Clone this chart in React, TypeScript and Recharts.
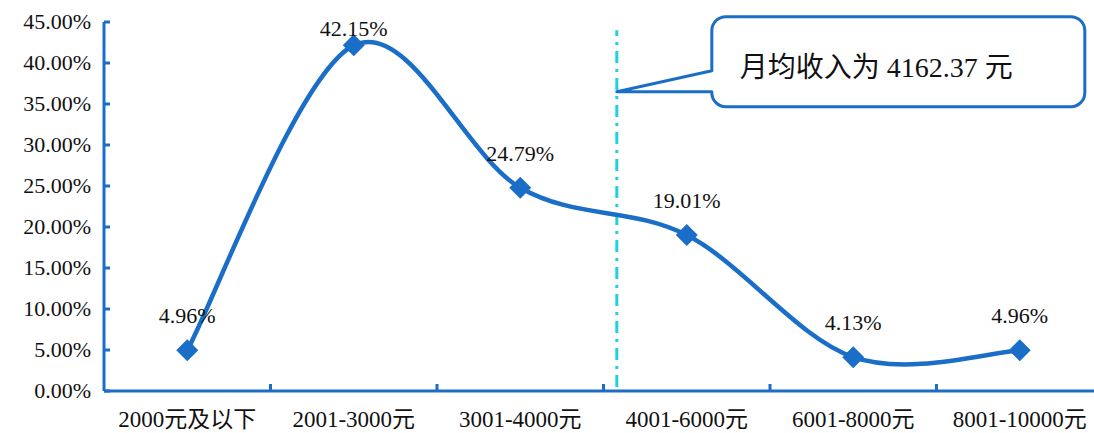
import { LabelList, Line, LineChart, ReferenceDot, ReferenceLine, XAxis, YAxis } from "recharts";

const categories = ["2000元及以下", "2001-3000元", "3001-4000元", "4001-6000元", "6001-8000元", "8001-10000元"];
const shares = [4.96, 42.15, 24.79, 19.01, 4.13, 4.96];
const yTicks = [0, 5, 10, 15, 20, 25, 30, 35, 40, 45];
const xTicks = [0.5, 1, 1.5, 2, 2.5, 3, 3.5, 4, 4.5, 5, 5.5];

// 月均收入 4162.37 falls inside the 4001-6000 bucket
const avgIncomeX = 3.08;
const calloutY = 36.5;
const calloutText = "月均收入为 4162.37 元";

const BLUE = "#1a6ec7";
const CYAN = "#1fd2df";
const FONT = '"Liberation Serif", "Times New Roman", "Noto Sans CJK SC", serif';

const data = shares.map((v, i) => ({ x: i + 0.5, name: categories[i], v }));

// Excel-style smoothed line (Catmull-Rom as cubic beziers)
function smoothCurve(context: any) {
  let pts: [number, number][] = [];
  return {
    areaStart() {},
    areaEnd() {},
    lineStart() {
      pts = [];
    },
    point(x: number, y: number) {
      pts.push([+x, +y]);
    },
    lineEnd() {
      if (!pts.length) return;
      context.moveTo(pts[0][0], pts[0][1]);
      for (let i = 0; i < pts.length - 1; i++) {
        const p0 = pts[i - 1] || pts[i];
        const p1 = pts[i];
        const p2 = pts[i + 1];
        const p3 = pts[i + 2] || p2;
        context.bezierCurveTo(
          p1[0] + (p2[0] - p0[0]) / 6,
          p1[1] + (p2[1] - p0[1]) / 6,
          p2[0] - (p3[0] - p1[0]) / 6,
          p2[1] - (p3[1] - p1[1]) / 6,
          p2[0],
          p2[1]
        );
      }
    },
  };
}

function Diamond({ cx, cy }: any) {
  if (cx == null || cy == null) return null;
  const r = 11;
  return <polygon points={`${cx},${cy - r} ${cx + r},${cy} ${cx},${cy + r} ${cx - r},${cy}`} fill={BLUE} />;
}

function YTick({ x, y, payload }: any) {
  return (
    <g>
      <line x1={x} x2={x + 6} y1={y} y2={y} stroke={BLUE} strokeWidth={3} />
      <text x={x - 13} y={y + 7} textAnchor="end" fontSize={22} fontFamily={FONT} fill="#111">
        {`${Number(payload.value).toFixed(2)}%`}
      </text>
    </g>
  );
}

function XTick({ x, y, payload }: any) {
  const v = Number(payload.value);
  if (Number.isInteger(v)) {
    return <line x1={x} x2={x} y1={y} y2={y - 7} stroke={BLUE} strokeWidth={3} />;
  }
  return (
    <text x={x} y={y + 36} textAnchor="middle" fontSize={23} fontFamily={FONT} fill="#111">
      {categories[Math.floor(v)]}
    </text>
  );
}

function ValueLabel({ x, y, value }: any) {
  const ty = Math.max(y - 27, 36);
  return (
    <text x={x} y={ty} textAnchor="middle" fontSize={22} fontFamily={FONT} fill="#111">
      {`${Number(value).toFixed(2)}%`}
    </text>
  );
}

function Callout({ cx, cy }: any) {
  if (cx == null || cy == null) return null;
  const L = cx + 95;
  const R = cx + 468;
  const T = cy - 75;
  const B = cy + 15;
  const r = 14;
  const d = [
    `M${L},${cy - 21}`,
    `V${T + r}`,
    `A${r},${r} 0 0 1 ${L + r},${T}`,
    `H${R - r}`,
    `A${r},${r} 0 0 1 ${R},${T + r}`,
    `V${B - r}`,
    `A${r},${r} 0 0 1 ${R - r},${B}`,
    `H${L + r}`,
    `A${r},${r} 0 0 1 ${L},${B - r}`,
    `V${cy}`,
    `L${cx},${cy}`,
    "Z",
  ].join(" ");
  return (
    <g>
      <path d={d} fill="#fff" stroke={BLUE} strokeWidth={3} strokeLinejoin="round" />
      <text x={L + 28} y={cy - 15} fontSize={28} fontFamily={FONT} fill="#111">
        {calloutText}
      </text>
    </g>
  );
}

export default function App() {
  return (
    <div style={{ position: "fixed", left: 0, top: 0, width: 1094, height: 433, overflow: "hidden", background: "#fff" }}>
      <LineChart width={1110} height={433} data={data} margin={{ top: 22, right: 7, bottom: 0, left: 0 }}>
        <XAxis
          type="number"
          dataKey="x"
          domain={[0, 6]}
          ticks={xTicks}
          interval={0}
          tick={<XTick />}
          tickLine={false}
          tickSize={0}
          tickMargin={0}
          height={42}
          axisLine={{ stroke: BLUE, strokeWidth: 3 }}
        />
        <YAxis
          type="number"
          domain={[0, 45]}
          ticks={yTicks}
          interval={0}
          width={104}
          tick={<YTick />}
          tickLine={false}
          tickSize={0}
          tickMargin={0}
          axisLine={{ stroke: BLUE, strokeWidth: 3 }}
        />
        <ReferenceLine
          segment={[
            { x: avgIncomeX, y: 0.5 },
            { x: avgIncomeX, y: 44 },
          ]}
          stroke={CYAN}
          strokeWidth={3}
          strokeDasharray="12 6 3 6"
        />
        <Line
          type={smoothCurve as any}
          dataKey="v"
          stroke={BLUE}
          strokeWidth={4.5}
          dot={<Diamond />}
          activeDot={false}
          isAnimationActive={false}
        >
          <LabelList dataKey="v" content={<ValueLabel />} />
        </Line>
        <ReferenceDot x={avgIncomeX} y={calloutY} r={0} shape={<Callout />} ifOverflow="visible" />
      </LineChart>
    </div>
  );
}
